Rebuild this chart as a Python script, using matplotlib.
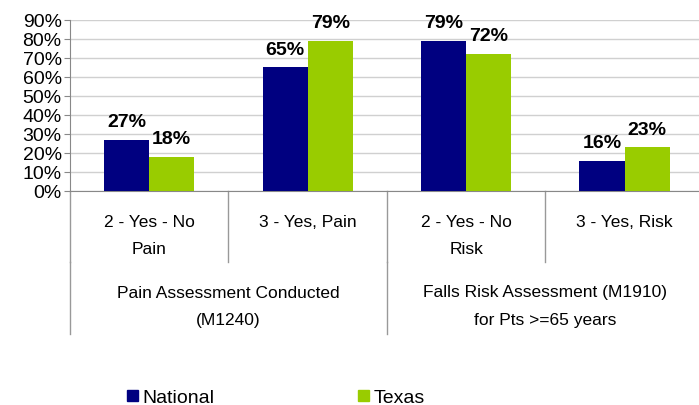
import matplotlib
matplotlib.use('Agg')
import matplotlib.pyplot as plt
from matplotlib.patches import Patch
import numpy as np

plt.rcParams['font.family'] = ['Liberation Sans', 'DejaVu Sans']

# data
categories = ['2 - Yes - No\nPain', '3 - Yes, Pain', '2 - Yes - No\nRisk', '3 - Yes, Risk']
groups = ['Pain Assessment Conducted\n(M1240)', 'Falls Risk Assessment (M1910)\nfor Pts >=65 years']
national = [27, 65, 79, 16]
texas = [18, 79, 72, 23]
series_names = ['National', 'Texas']
colors = ['#000080', '#99CC00']

W, H = 699, 406
fig = plt.figure(figsize=(W / 100, H / 100), dpi=100)
axh = 171.3
ax = fig.add_axes([70 / W, (H - 192) / H, 629 / W, axh / H])

x = np.arange(len(categories))
bw = 0.285
b1 = ax.bar(x - bw / 2, national, bw, color=colors[0], zorder=3)
b2 = ax.bar(x + bw / 2, texas, bw, color=colors[1], zorder=3)

for bars in (b1, b2):
    for b in bars:
        ax.annotate('{:.0f}%'.format(b.get_height()),
                    (b.get_x() + b.get_width() / 2, b.get_height()),
                    xytext=(0, 7), textcoords='offset points',
                    ha='center', va='bottom', fontsize=14,
                    fontweight='bold', annotation_clip=False)

ax.set_ylim(0, 90)
ax.set_xlim(-0.5, 3.47)
ax.set_yticks(range(0, 91, 10))
ax.set_yticklabels(['{}%'.format(v) for v in range(0, 91, 10)], fontsize=14)
ax.tick_params(axis='y', length=4, color='#888888', pad=2)
ax.set_xticks([])
ax.grid(axis='y', color='#d0d0d0', linewidth=1, zorder=0)
for s in ['top', 'right']:
    ax.spines[s].set_visible(False)
ax.spines['left'].set_color('#888888')
ax.spines['bottom'].set_color('#888888')

# category labels and dividers (each line placed on its own row, top aligned)
tr = ax.get_xaxis_transform()
cat_rows = [-31 / axh, -58 / axh]
grp_rows = [-101 / axh, -128 / axh]
for i, lab in enumerate(categories):
    for k, line in enumerate(lab.split('\n')):
        ax.text(i, cat_rows[k], line, transform=tr, ha='center', va='center',
                fontsize=12.5)
for d in [-0.5, 0.5, 1.5, 2.5, 3.5]:
    ax.plot([d, d], [0, -71 / axh], transform=tr, color='#999999',
            linewidth=1, clip_on=False)
for j, g in enumerate(groups):
    for k, line in enumerate(g.split('\n')):
        ax.text(2 * j + 0.5, grp_rows[k], line, transform=tr, ha='center',
                va='center', fontsize=12.5)
for d in [-0.5, 1.5, 3.5]:
    ax.plot([d, d], [-71 / axh, -143 / axh], transform=tr, color='#999999',
            linewidth=1, clip_on=False)

handles = [Patch(color=c) for c in colors]
fig.legend(handles, series_names, loc='center', bbox_to_anchor=(276 / W, 7 / H),
           ncol=2, frameon=False, fontsize=14,
           handlelength=0.55, handleheight=0.55, handletextpad=0.25,
           columnspacing=7.4)

fig.savefig('out.png', dpi=100)
